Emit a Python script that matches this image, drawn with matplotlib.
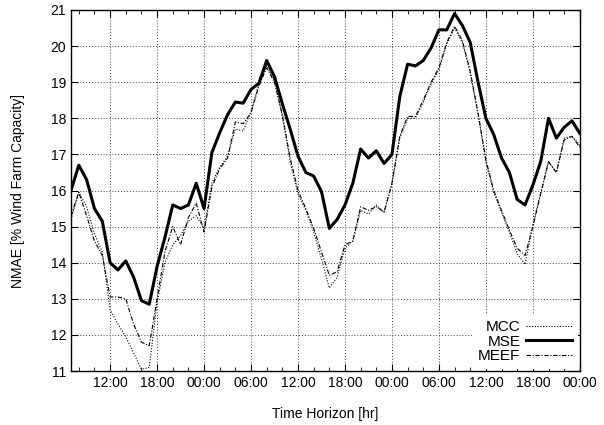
import matplotlib
matplotlib.use("Agg")
import matplotlib.pyplot as plt
from matplotlib.ticker import MultipleLocator

plt.rcParams['font.family'] = ['Liberation Sans', 'DejaVu Sans']

# forecast horizon in hours (07:00 day 1 ... 00:00 day 4)
hours = list(range(7, 73))

mse = [16.0, 16.7, 16.3, 15.5, 15.15, 14.0, 13.8, 14.05, 13.6, 12.95, 12.85, 13.9,
       14.7, 15.6, 15.5, 15.6, 16.2, 15.5, 17.05, 17.6, 18.1, 18.45, 18.42, 18.8,
       18.97, 19.6, 19.15, 18.4, 17.7, 16.95, 16.5, 16.4, 15.97, 14.95, 15.2, 15.6,
       16.2, 17.15, 16.9, 17.1, 16.75, 17.0, 18.6, 19.5, 19.45, 19.6, 19.95, 20.45,
       20.45, 20.9, 20.57, 20.1, 19.0, 18.0, 17.55, 16.9, 16.5, 15.75, 15.6, 16.15,
       16.8, 18.0, 17.45, 17.75, 17.93, 17.58]

mcc = [15.2, 15.95, 15.55, 14.8, 14.3, 12.7, 12.3, 11.95, 11.5, 11.05, 11.1, 12.9,
       14.0, 14.5, 14.75, 15.15, 15.3, 14.95, 16.2, 16.65, 16.95, 17.7, 17.65, 18.2,
       18.95, 19.45, 19.05, 18.05, 16.8, 15.9, 15.45, 14.85, 14.1, 13.3, 13.6, 14.4,
       14.6, 15.45, 15.35, 15.6, 15.4, 16.2, 17.45, 18.0, 18.0, 18.45, 18.95, 19.35,
       20.05, 20.5, 20.1, 19.25, 18.1, 16.8, 15.95, 15.4, 14.85, 14.25, 13.95, 15.05,
       15.95, 16.8, 16.5, 17.45, 17.5, 17.25]

meef = [15.3, 15.95, 15.3, 14.6, 14.2, 13.05, 13.05, 13.0, 12.3, 11.8, 11.7, 13.0,
        14.3, 15.0, 14.5, 15.25, 15.65, 14.85, 16.1, 16.6, 16.9, 17.9, 17.85, 18.15,
        18.9, 19.4, 19.0, 18.1, 16.9, 16.0, 15.5, 14.95, 14.3, 13.65, 13.75, 14.5,
        14.6, 15.55, 15.45, 15.55, 15.4, 16.2, 17.5, 18.05, 18.05, 18.5, 19.0, 19.4,
        20.1, 20.55, 20.15, 19.3, 18.15, 16.85, 16.0, 15.45, 14.9, 14.4, 14.2, 15.0,
        15.9, 16.8, 16.5, 17.4, 17.5, 17.2]

tick_hours = [12, 18, 24, 30, 36, 42, 48, 54, 60, 66, 72]
tick_labels = ['12:00', '18:00', '00:00', '06:00', '12:00', '18:00',
               '00:00', '06:00', '12:00', '18:00', '00:00']

fig = plt.figure(figsize=(6.04, 4.25), dpi=100)
ax = fig.add_axes([0.1175, 0.127, 0.8425, 0.8495])

ax.plot(hours, mcc, color='black', lw=0.8, linestyle=(0, (1, 1.5)), label='MCC')
ax.plot(hours, mse, color='black', lw=2.2, label='MSE')
ax.plot(hours, meef, color='black', lw=0.8, linestyle=(0, (4, 1.5, 1, 1.5)), label='MEEF')

ax.set_xlim(7, 72)
ax.set_ylim(11, 21)
ax.set_xticks(tick_hours)
ax.set_xticklabels(tick_labels)
ax.xaxis.set_minor_locator(MultipleLocator(2))
ax.yaxis.set_major_locator(MultipleLocator(1))

ax.tick_params(which='both', direction='in', top=True, right=True, labelsize=10)
ax.tick_params(which='major', length=5)
ax.tick_params(which='minor', length=3)
ax.grid(True, which='major', color='#444444', lw=0.7, linestyle=(0, (1, 2)))
for s in ax.spines.values():
    s.set_linewidth(1.0)

ax.set_xlabel('Time Horizon [hr]', fontsize=10, labelpad=12)
ax.set_ylabel('NMAE [% Wind Farm Capacity]', fontsize=10, labelpad=18)

leg = ax.legend(loc='lower right', markerfirst=False, fontsize=11, handlelength=3.0,
                frameon=True, fancybox=False, borderaxespad=0.1, labelspacing=0.05,
                handletextpad=0.4)
leg.get_frame().set_edgecolor('none')
leg.get_frame().set_facecolor('white')
leg.get_frame().set_alpha(1.0)

fig.savefig('out.png', dpi=100)
